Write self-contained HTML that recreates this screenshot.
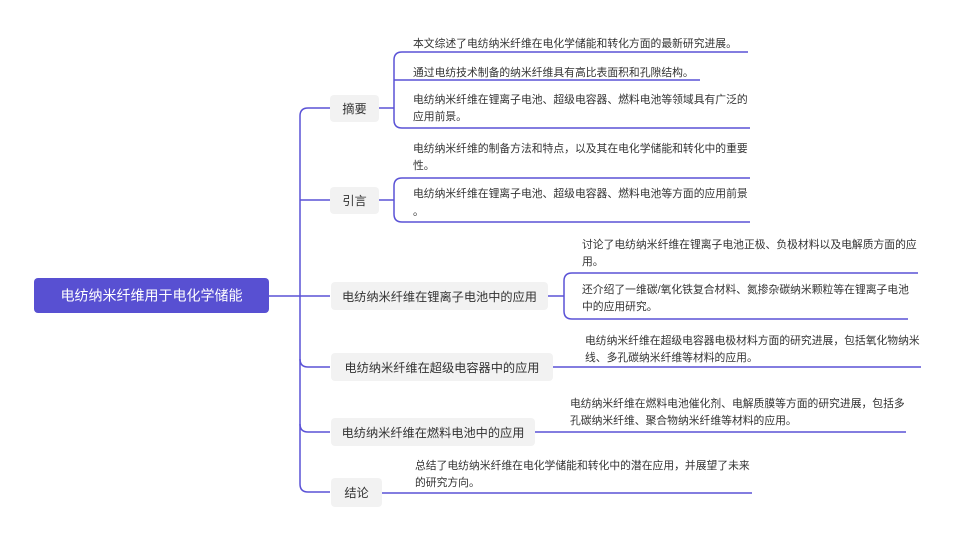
<!DOCTYPE html>
<html><head><meta charset="utf-8"><style>
html,body{margin:0;padding:0;background:#fff;}
svg{display:block;}
text{font-family:"Liberation Sans","Noto Sans CJK SC",sans-serif;fill:#333;}
.l{font-size:10.8px;}
.b{font-size:12.2px;}
</style></head><body>
<svg width="955" height="542" viewBox="0 0 955 542" xmlns="http://www.w3.org/2000/svg">
<g fill="none" stroke="#5a52d6" stroke-width="1.5">
<path d="M269 296 H300"/>
<path d="M330 108 H308 Q300 108 300 116 V484 Q300 492 308 492 H330"/>
<path d="M300 200 H330"/>
<path d="M300 296 H330"/>
<path d="M300 359 Q300 367 308 367 H330"/>
<path d="M300 424 Q300 432 308 432 H330"/>
<path d="M379 108 H394"/>
<path d="M748 52 H402 Q394 52 394 60 V120 Q394 128 402 128 H750"/>
<path d="M394 80 H700"/>
<path d="M379 200 H394"/>
<path d="M750 178 H402 Q394 178 394 186 V214 Q394 222 402 222 H750"/>
<path d="M548 296 H564"/>
<path d="M918 273 H572 Q564 273 564 281 V311 Q564 319 572 319 H908"/>
<path d="M553 367 H921"/>
<path d="M535 432 H906"/>
<path d="M382 493 H752"/>
</g>
<rect x="34" y="278" width="235" height="35" rx="4" fill="#5850d2"/>
<text x="151.5" y="300.5" text-anchor="middle" style="font-size:14px;fill:#fff">电纺纳米纤维用于电化学储能</text>

<g fill="#f2f2f2">
<rect x="330" y="95" width="49" height="27" rx="4"/>
<rect x="330" y="187" width="49" height="27" rx="4"/>
<rect x="331" y="282" width="217" height="28" rx="4"/>
<rect x="331" y="353" width="222" height="28" rx="4"/>
<rect x="331" y="418" width="204" height="28" rx="4"/>
<rect x="331" y="478" width="51" height="29" rx="4"/>
</g>
<g class="b" text-anchor="middle">
<text x="354.5" y="113">摘要</text>
<text x="354.5" y="205">引言</text>
<text x="439.5" y="301">电纺纳米纤维在锂离子电池中的应用</text>
<text x="442" y="372">电纺纳米纤维在超级电容器中的应用</text>
<text x="433" y="437">电纺纳米纤维在燃料电池中的应用</text>
<text x="356.5" y="497">结论</text>
</g>
<g class="l">
<text x="413" y="47">本文综述了电纺纳米纤维在电化学储能和转化方面的最新研究进展。</text>
<text x="413" y="76">通过电纺技术制备的纳米纤维具有高比表面积和孔隙结构。</text>
<text x="413" y="103">电纺纳米纤维在锂离子电池、超级电容器、燃料电池等领域具有广泛的</text>
<text x="413" y="120">应用前景。</text>
<text x="413" y="152">电纺纳米纤维的制备方法和特点，以及其在电化学储能和转化中的重要</text>
<text x="413" y="169">性。</text>
<text x="413" y="197">电纺纳米纤维在锂离子电池、超级电容器、燃料电池等方面的应用前景</text>
<text x="413" y="215">。</text>
<text x="582" y="248">讨论了电纺纳米纤维在锂离子电池正极、负极材料以及电解质方面的应</text>
<text x="582" y="265">用。</text>
<text x="582" y="293">还介绍了一维碳/氧化铁复合材料、氮掺杂碳纳米颗粒等在锂离子电池</text>
<text x="582" y="310">中的应用研究。</text>
<text x="585" y="344">电纺纳米纤维在超级电容器电极材料方面的研究进展，包括氧化物纳米</text>
<text x="585" y="361">线、多孔碳纳米纤维等材料的应用。</text>
<text x="570" y="407">电纺纳米纤维在燃料电池催化剂、电解质膜等方面的研究进展，包括多</text>
<text x="570" y="424">孔碳纳米纤维、聚合物纳米纤维等材料的应用。</text>
<text x="415" y="469">总结了电纺纳米纤维在电化学储能和转化中的潜在应用，并展望了未来</text>
<text x="415" y="486">的研究方向。</text>
</g>
</svg>
</body></html>
